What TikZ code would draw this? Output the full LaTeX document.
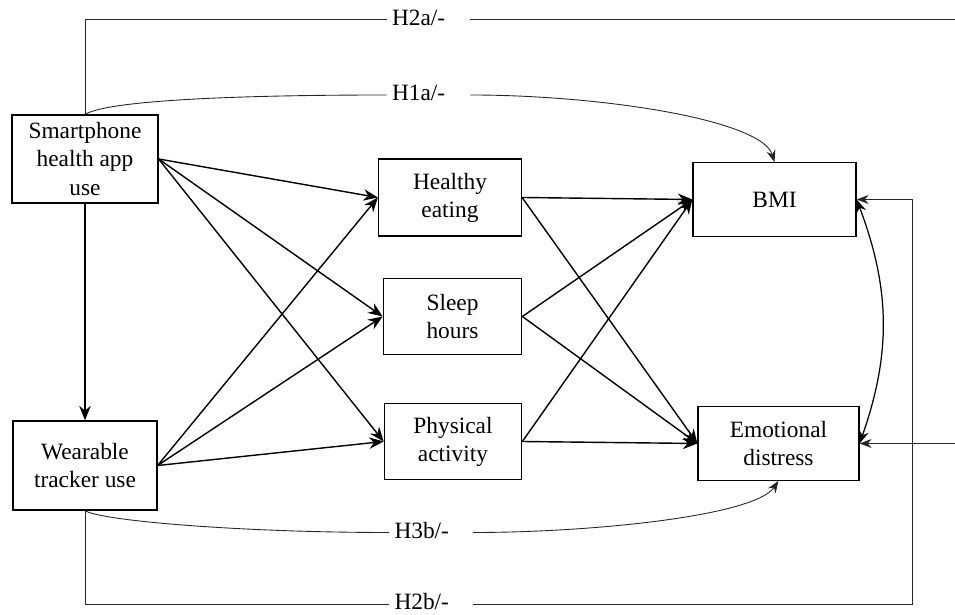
\documentclass[tikz,border=0pt]{standalone}
\usepackage{fontspec}
\setmainfont{Liberation Serif}
\usepackage{tikz}
\usetikzlibrary{arrows.meta, positioning, calc}

\begin{document}
\begin{tikzpicture}[
    font=\fontsize{13.3}{16}\selectfont,
    box/.style={rectangle, draw, line width=0.7pt, align=center, inner sep=2pt},
    hyp/.style={rectangle, fill=white, inner xsep=0.1cm, inner ysep=0pt, text width=1.46cm, align=left, text height=0.3cm, text depth=0.06cm},
    arrow/.style={-{Stealth[length=2.9mm, width=2.3mm]}, line width=0.8pt},
    thinline/.style={line width=0.5pt, black!85},
    thinarrow/.style={thinline, -{Stealth[length=2.4mm, width=1.8mm]}},
    botharrow/.style={{Stealth[length=2.6mm, width=2mm]}-{Stealth[length=2.6mm, width=2mm]}, line width=0.7pt}]

    \useasboundingbox (0,0) rectangle (19.1,12.3);

    % Predictors (left column)
    \node[box, minimum width=2.92cm, minimum height=1.76cm] (sp) at (1.70,9.12) {Smartphone\\health app\\use};
    \node[box, minimum width=2.88cm, minimum height=1.78cm] (wt) at (1.70,2.99) {Wearable\\tracker use};

    % Mediators (middle column)
    \node[box, minimum width=2.86cm, minimum height=1.54cm] (he) at (9.00,8.35) {Healthy\\eating};
    \node[box, minimum width=2.77cm, minimum height=1.53cm] (sh) at (9.05,5.97) {Sleep\\hours};
    \node[box, minimum width=2.75cm, minimum height=1.53cm] (pa) at (9.06,3.47) {Physical\\activity};

    % Outcomes (right column)
    \node[box, minimum width=3.26cm, minimum height=1.47cm] (bmi) at (15.49,8.31) {BMI};
    \node[box, minimum width=3.22cm, minimum height=1.47cm] (ed) at (15.57,3.43) {Emotional\\distress};

    % Hypothesis labels sitting on the long paths
    \node[hyp] (h2a) at (8.57,11.91) {H2a/-};
    \node[hyp] (h1a) at (8.57,10.40) {H1a/-};
    \node[hyp] (h3b) at (8.62,1.65) {H3b/-};
    \node[hyp] (h2b) at (8.62,0.22) {H2b/-};

    % Right edge and return rail
    \coordinate (edgeR) at (19.1,11.91);
    \coordinate (railB) at (18.24,0.22);

    % Smartphone -> wearable
    \draw[arrow] (sp.south) -- (wt.north);

    % Predictors -> mediators
    \draw[arrow] (sp.east) -- (he.west);
    \draw[arrow] (sp.east) -- (sh.west);
    \draw[arrow] (sp.east) -- (pa.west);
    \draw[arrow] (wt.east) -- (he.west);
    \draw[arrow] (wt.east) -- (sh.west);
    \draw[arrow] (wt.east) -- (pa.west);

    % Mediators -> outcomes
    \draw[arrow] (he.east) -- (bmi.west);
    \draw[arrow] (he.east) -- (ed.west);
    \draw[arrow] (sh.east) -- (bmi.west);
    \draw[arrow] (sh.east) -- (ed.west);
    \draw[arrow] (pa.east) -- (bmi.west);
    \draw[arrow] (pa.east) -- (ed.west);

    % H2a: up and over, back in from the right
    \draw[thinline] (sp.north) |- (h2a.west);
    \draw[thinline] (h2a.east) -- (edgeR);
    \draw[thinarrow] (ed.east -| edgeR) -- (ed.east);

    % H1a: curved direct path to BMI
    \draw[thinline] (sp.north) .. controls +(0.5,0.3) and +(-2.7,0) .. (h1a.west);
    \draw[thinarrow] (h1a.east) .. controls +(2.6,0) and +(-0.26,0.85) .. (bmi.north);

    % H3b: curved direct path to emotional distress
    \draw[thinline] (wt.south) .. controls +(0.3,-0.2) and +(-3.0,0) .. (h3b.west);
    \draw[thinarrow] (h3b.east) .. controls +(2.4,0) and +(-0.47,-0.7) .. (ed.south);

    % H2b: down and under, up the rail to BMI
    \draw[thinline] (wt.south) |- (h2b.west);
    \draw[thinarrow] (h2b.east) -- (railB) |- (bmi.east);

    % Outcome covariance
    \draw[botharrow] (bmi.east) to[bend left=20] (ed.east);

\end{tikzpicture}
\end{document}
